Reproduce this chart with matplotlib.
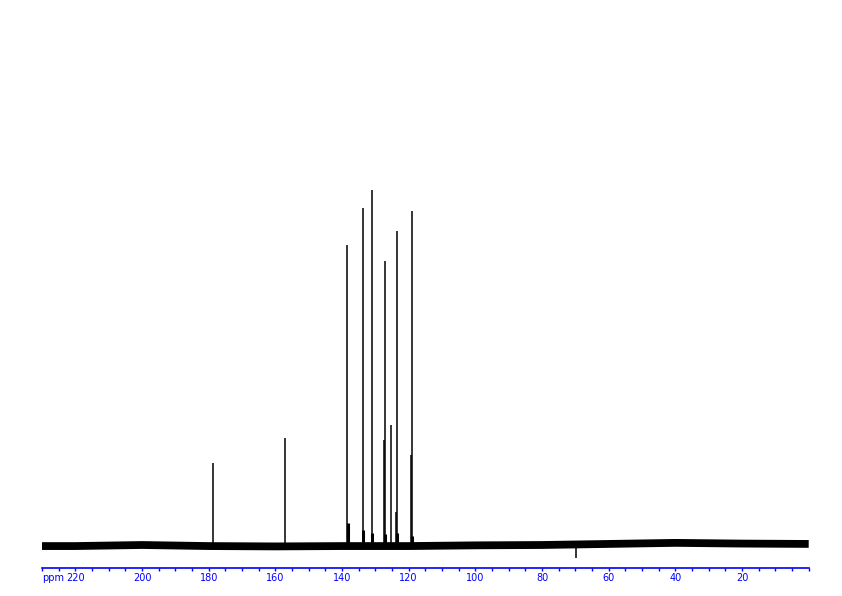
import matplotlib
matplotlib.use("Agg")
import matplotlib.pyplot as plt
import matplotlib.transforms as mtransforms
import numpy as np

# ---- data (13C spectrum, ppm / relative intensity) ----
peak_ppm = [178.6, 157.0, 138.4, 133.6, 130.9, 127.5, 127.1, 125.2, 123.8, 123.4, 119.3, 119.0]
peak_int = [23.1, 30.1, 84.5, 94.9, 100.0, 29.6, 80.0, 33.8, 9.3, 88.5, 25.4, 94.1]

# small broad feet at the bottom of the strong lines
foot_ppm = [138.3, 133.7, 130.9, 127.2, 123.5, 119.1]
foot_int = [6.2, 4.2, 3.4, 3.0, 3.4, 2.5]

# negative artefact
dip_ppm = [69.8]
dip_int = [-3.7]

# baseline level (noise band centre) along the axis
base_ppm = [230, 220, 200, 180, 160, 140, 120, 100, 80, 60, 40, 20, 0]
base_lvl = [-0.3, -0.3, 0.0, -0.3, -0.4, -0.3, -0.3, -0.1, 0.0, 0.3, 0.6, 0.4, 0.3]

tick_major = [220, 200, 180, 160, 140, 120, 100, 80, 60, 40, 20]
xmin_ppm, xmax_ppm = 230, 0

W, H = 842, 596
fig = plt.figure(figsize=(W / 100, H / 100), dpi=100)
left = 42 / W
right = 808.7 / W
bottom = (H - 568) / H
top = (H - 20) / H
ax = fig.add_axes([left, bottom, right - left, top - bottom])

px = 100 / 355.0  # intensity units per pixel
ax.set_xlim(xmin_ppm, xmax_ppm)
ax.set_ylim(-23 * px, 525 * px)

# baseline noise band
ax.plot(base_ppm, base_lvl, color="black", lw=5.6, solid_capstyle="butt", zorder=2)

# peaks
ax.vlines(peak_ppm, 0, peak_int, color="black", lw=1.1, zorder=3)
ax.vlines(foot_ppm, 0, foot_int, color="black", lw=2.2, zorder=3)
ax.vlines(dip_ppm, 0, dip_int, color="black", lw=1.1, zorder=3)

blue = "#0000ff"
for s in ["top", "left", "right"]:
    ax.spines[s].set_visible(False)
ax.spines["bottom"].set_color(blue)
ax.spines["bottom"].set_linewidth(1.2)
ax.set_yticks([])
ax.set_xticks(tick_major)
ax.set_xticklabels([str(t) for t in tick_major])
ax.set_xticks(np.arange(230, -1, -5), minor=True)
ax.tick_params(axis="x", which="both", direction="out", length=2.2, width=1.0,
               color=blue, labelcolor=blue, labelsize=7, pad=1.2)
ax.tick_params(axis="x", which="minor", labelbottom=False)

trans = mtransforms.offset_copy(ax.transAxes, fig=fig, x=0, y=-(2.2 + 1.2), units="points")
ax.text(0.0, 0.0, "ppm", transform=trans, color=blue, fontsize=7,
        ha="left", va="top")
ax.patch.set_visible(False)

fig.savefig("out.png", dpi=100)
